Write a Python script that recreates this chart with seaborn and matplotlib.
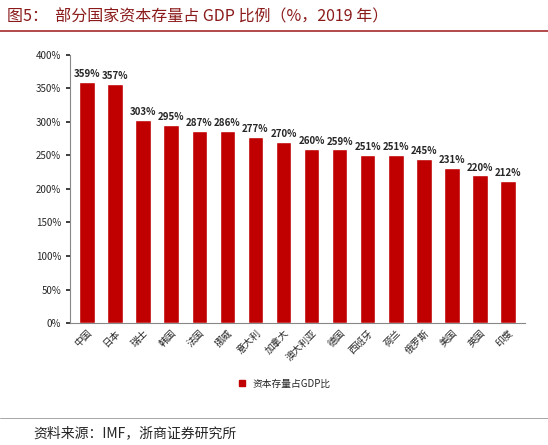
import matplotlib
matplotlib.use("Agg")
import matplotlib.pyplot as plt
import seaborn as sns
import pandas as pd
from matplotlib.ticker import FuncFormatter

countries = ["中国","日本","瑞士","韩国","法国","挪威","意大利","加拿大","澳大利亚","德国","西班牙","荷兰","俄罗斯","美国","英国","印度"]
values = [359,357,303,295,287,286,277,270,260,259,251,251,245,231,220,212]
series_name = "资本存量占GDP比"

sns.set_theme(style="white")
plt.rcParams['font.family'] = ['Noto Sans CJK SC', 'DejaVu Sans']

df = pd.DataFrame({"country": countries, "value": values, "s": series_name})
fig = plt.figure(figsize=(5.48, 4.45), dpi=100)
ax = fig.add_axes([0.128, 0.274, 0.83, 0.603])
sns.barplot(data=df, x="country", y="value", hue="s", palette=["#C00000"], saturation=1, width=0.55, ax=ax, legend=False)
for c in ax.containers:
    ax.bar_label(c, labels=[f"{v}%" for v in values], fontsize=7, fontweight="bold", padding=2)
ax.set_ylim(0, 400)
ax.set_yticks(range(0, 401, 50))
ax.yaxis.set_major_formatter(FuncFormatter(lambda v, p: f"{int(v)}%"))
ax.tick_params(axis='y', labelsize=7, length=3, left=True)
ax.tick_params(axis='x', labelsize=7, rotation=45, length=0)
for lab in ax.get_xticklabels():
    lab.set_ha("right"); lab.set_rotation_mode("anchor")
ax.set_xlabel(""); ax.set_ylabel("")
for s in ["top", "right"]:
    ax.spines[s].set_visible(False)
for s in ["left", "bottom"]:
    ax.spines[s].set_color("#888888"); ax.spines[s].set_linewidth(0.8)
ax.set_xlim(-0.6, len(countries) - 0.4)

from matplotlib.patches import Patch
fig.legend(handles=[Patch(color="#C00000", label=series_name)], loc="center", bbox_to_anchor=(0.52, 0.138),
           frameon=False, fontsize=7, handlelength=0.6, handleheight=0.6)

fig.text(0.012, 0.962, "图5：  部分国家资本存量占 GDP 比例（%，2019 年）", fontsize=11.5, color="#8B1A1A",
         family=['Noto Sans CJK SC', 'DejaVu Sans'], va="center")
fig.add_artist(plt.Line2D([0.0, 1.0], [0.93, 0.93], color="#A52A2A", lw=1.2))
fig.add_artist(plt.Line2D([0.0, 1.0], [0.06, 0.06], color="#999999", lw=0.6))
fig.text(0.06, 0.027, "资料来源：IMF，浙商证券研究所", fontsize=10, va="center")
fig.savefig("out.png", dpi=100)
